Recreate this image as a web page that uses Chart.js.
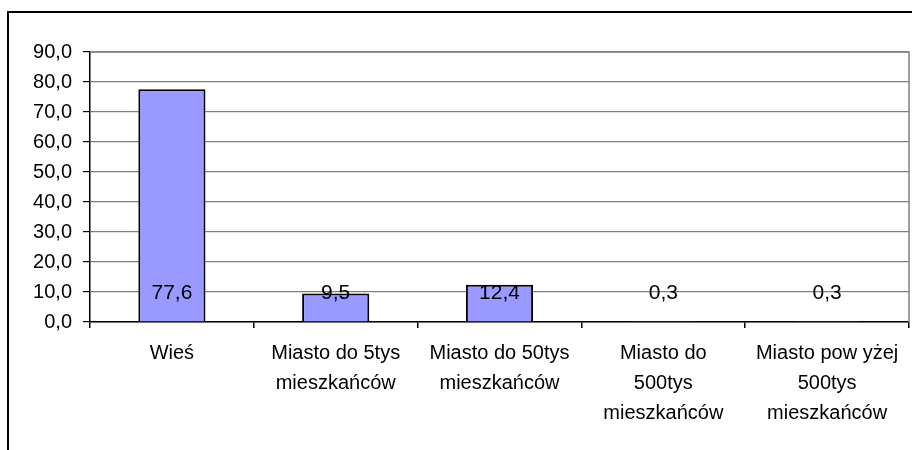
<!DOCTYPE html>
<html>
<head>
<meta charset="utf-8">
<script src="https://cdn.jsdelivr.net/npm/chart.js@4.4.1/dist/chart.umd.min.js"></script>
<style>
  html, body { margin: 0; padding: 0; background: #fff; }
  #wrap { position: relative; width: 912px; height: 450px; overflow: hidden; }
  #frame { position: absolute; left: 7px; top: 11px; width: 1000px; height: 1000px; border: 2px solid #000; box-sizing: border-box; }
  canvas { position: absolute; left: 0; top: 0; }
</style>
</head>
<body>
<div id="wrap">
  <div id="frame"></div>
  <canvas id="c" width="912" height="450"></canvas>
</div>
<script>
const categories = [
  ["Wieś"],
  ["Miasto do 5tys", "mieszkańców"],
  ["Miasto do 50tys", "mieszkańców"],
  ["Miasto do", "500tys", "mieszkańców"],
  ["Miasto pow yżej", "500tys", "mieszkańców"]
];
const values = [77.6, 9.5, 12.4, 0.3, 0.3];
const yMin = 0;
const yMax = 90;
const yStep = 10;

const fmt = v => Number(v).toFixed(1).replace('.', ',');
const FONT = "'Liberation Sans', Arial, sans-serif";

const plotFrame = {
  id: 'plotFrame',
  beforeDatasetsDraw(chart) {
    const a = chart.chartArea, ctx = chart.ctx;
    ctx.save();
    ctx.strokeStyle = '#808080';
    ctx.lineWidth = 1.5;
    ctx.beginPath();
    ctx.moveTo(a.left, a.top);
    ctx.lineTo(a.right, a.top);
    ctx.lineTo(a.right, a.bottom);
    ctx.stroke();
    ctx.restore();
  }
};

const baseLabels = {
  id: 'baseLabels',
  afterDatasetsDraw(chart) {
    const ctx = chart.ctx;
    const meta = chart.getDatasetMeta(0);
    ctx.save();
    ctx.font = "21px " + FONT;
    ctx.fillStyle = '#000';
    ctx.textAlign = 'center';
    ctx.textBaseline = 'middle';
    meta.data.forEach((bar, i) => {
      ctx.fillText(fmt(values[i]), bar.x, bar.base - 28);
    });
    ctx.restore();
  }
};

new Chart(document.getElementById('c'), {
  type: 'bar',
  data: {
    labels: categories,
    datasets: [{
      data: values,
      backgroundColor: '#9999FF',
      borderColor: '#000',
      borderWidth: 2,
      categoryPercentage: 1,
      barPercentage: 0.41
    }]
  },
  options: {
    responsive: false,
    animation: false,
    events: [],
    layout: { padding: { top: 52, right: 3, bottom: 0, left: 0 } },
    plugins: { legend: { display: false }, tooltip: { enabled: false } },
    scales: {
      x: {
        grid: { offset: true, drawOnChartArea: false, drawTicks: true, tickLength: 6, tickColor: '#000', lineWidth: 1.5 },
        border: { color: '#000', width: 1.5 },
        ticks: { color: '#000', font: { family: FONT, size: 20, lineHeight: 1.5 }, padding: 10, maxRotation: 0, autoSkip: false },
        afterFit(s) { s.height = 128; }
      },
      y: {
        min: yMin, max: yMax,
        grid: { color: '#808080', lineWidth: 1.2, tickColor: '#000', tickLength: 7 },
        border: { color: '#000', width: 1.5 },
        ticks: { stepSize: yStep, color: '#000', font: { family: FONT, size: 20 }, padding: 11, callback: v => fmt(v) },
        afterFit(s) { s.width = 90; }
      }
    }
  },
  plugins: [plotFrame, baseLabels]
});
</script>
</body>
</html>
